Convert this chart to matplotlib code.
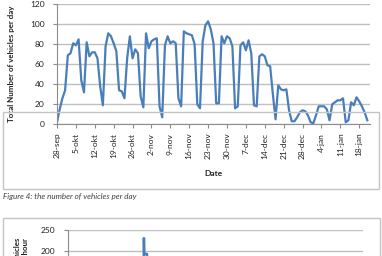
import matplotlib
matplotlib.use("Agg")
import matplotlib.pyplot as plt
from matplotlib.patches import Rectangle
import numpy as np

plt.rcParams['font.family'] = ['Lato', 'DejaVu Sans']

# ---- data: vehicles per day, starting 28-sep (one value per day) ----
vehicles_per_day = [
    2, 15, 26, 34, 69, 71, 81, 79, 85, 44,
    32, 82, 68, 72, 72, 66, 38, 19, 78, 91,
    88, 81, 73, 34, 33, 26, 66, 88, 66, 75,
    71, 28, 17, 91, 76, 83, 85, 86, 18, 7,
    79, 88, 81, 83, 81, 26, 18, 93, 91, 90,
    89, 80, 20, 16, 83, 99, 103, 95, 81, 21,
    21, 88, 81, 88, 86, 78, 16, 18, 79, 82,
    74, 84, 71, 19, 18, 68, 70, 68, 59, 58,
    30, 5, 39, 35, 34, 35, 14, 3, 3, 7,
    12, 14, 13, 9, 2, 1, 9, 18, 18, 18,
    15, 4, 20, 22, 24, 24, 26, 2, 4, 22,
    19, 27, 23, 18, 12, 4,
]
date_labels = ["28-sep", "5-okt", "12-okt", "19-okt", "26-okt", "2-nov",
               "9-nov", "16-nov", "23-nov", "30-nov", "7-dec", "14-dec",
               "21-dec", "28-dec", "4-jan", "11-jan", "18-jan"]
days_per_label = 7
y_ticks_day = [0, 20, 40, 60, 80, 100, 120]

# second (partially visible) chart: vehicles per hour, x in days since 28-sep
hour_day = [29.9, 30.0, 30.1, 31.2, 31.3]
hour_vehicles = [120, 231, 193, 193, 120]
y_ticks_hour = [0, 50, 100, 150, 200, 250]

W, H = 382, 256
fig = plt.figure(figsize=(W / 100, H / 100), dpi=100)
fig.patch.set_facecolor('white')

def fx(px):
    return px / W

def fy(py):
    return 1 - py / H

frame_col = '#c4c4c4'
grid_col = '#c0c0c0'
axis_col = '#8c8c8c'
line_col = '#4a7ebb'
text_col = '#222222'

# chart frames
fig.patches.append(Rectangle((fx(2.5), fy(189)), fx(379) - fx(2.5), 0.3,
                             transform=fig.transFigure, fill=False,
                             edgecolor=frame_col, linewidth=1.0))
fig.patches.append(Rectangle((fx(2.5), -0.3), fx(380) - fx(2.5), fy(218) + 0.3,
                             transform=fig.transFigure, fill=False,
                             edgecolor=frame_col, linewidth=1.0))

# ---- top chart ----
ax = fig.add_axes([fx(57), fy(124.3), fx(370) - fx(57), fy(4.3) - fy(124.3)])
x = np.arange(len(vehicles_per_day))
ax.plot(x, vehicles_per_day, color=line_col, linewidth=1.6, solid_joinstyle='round')
ax.set_xlim(0, 116)
ax.set_ylim(0, 120)
ax.set_yticks(y_ticks_day)
ax.set_xticks(np.arange(len(date_labels)) * days_per_label)
ax.set_xticklabels(date_labels, rotation=90, fontsize=6, color=text_col)
ax.tick_params(axis='y', labelsize=6, colors=axis_col, labelcolor=text_col,
               length=3, width=0.8, pad=6)
ax.tick_params(axis='x', colors=axis_col, labelcolor=text_col,
               length=3, width=0.8, pad=3)
ax.yaxis.grid(True, color=grid_col, linewidth=1.0)
ax.set_axisbelow(True)
for s in ['top', 'right']:
    ax.spines[s].set_visible(False)
for s in ['left', 'bottom']:
    ax.spines[s].set_color(axis_col)
    ax.spines[s].set_linewidth(0.8)
ax.set_ylabel('Total Number of vehicles per day', fontsize=5.7, fontweight='bold',
              color=text_col, labelpad=11)
ax.set_xlabel('Date', fontsize=6, fontweight='bold', color=text_col, labelpad=8)

# caption
fig.text(fx(3), fy(197), 'Figure 4: the number of vehicles per day', fontsize=5.8,
         style='italic', color='#404040', va='center', ha='left')

# ---- bottom chart (cut off) ----
ax2 = fig.add_axes([fx(67.5), fy(333.8), fx(363) - fx(67.5), fy(230.3) - fy(333.8)])
ax2.plot(hour_day, hour_vehicles, color=line_col, linewidth=1.8)
ax2.set_xlim(0, 116)
ax2.set_ylim(0, 250)
ax2.set_yticks(y_ticks_hour)
ax2.set_xticks([])
ax2.tick_params(axis='y', labelsize=6, colors=axis_col, labelcolor=text_col,
                length=3, width=0.8, pad=6)
ax2.yaxis.grid(True, color=grid_col, linewidth=1.0)
ax2.set_axisbelow(True)
for s in ['top', 'right']:
    ax2.spines[s].set_visible(False)
ax2.spines['left'].set_color(axis_col)
ax2.spines['left'].set_linewidth(0.8)
ax2.set_ylabel('Total Number of vehicles\nper hour', fontsize=5.7, fontweight='bold',
               color=text_col, labelpad=8, multialignment='right')

fig.savefig('out.png', dpi=100, facecolor='white')
